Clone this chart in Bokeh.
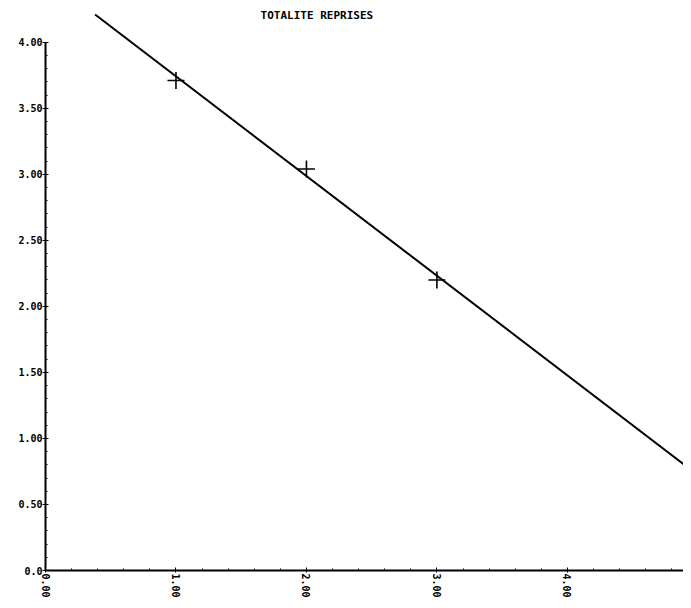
from bokeh.plotting import figure
from bokeh.models import Range1d, FixedTicker, Label
from bokeh.embed import file_html
from bokeh.resources import INLINE

# data
title_text = "TOTALITE REPRISES"
point_x = [1.0, 2.0, 3.0]
point_y = [3.71, 3.04, 2.20]
line_x = [0.38, 4.95]
line_y = [4.21, 0.76]
x_ticks = [0, 1, 2, 3, 4]
x_tick_labels = ["0.00", "1.00", "2.00", "3.00", "4.00"]
y_ticks = [0, 0.5, 1.0, 1.5, 2.0, 2.5, 3.0, 3.5, 4.0]
y_tick_labels = ["0.0", "0.50", "1.00", "1.50", "2.00", "2.50", "3.00", "3.50", "4.00"]

FONT = "DejaVu Sans Mono"

p = figure(width=683, height=600, output_backend="svg", toolbar_location=None,
           x_range=Range1d(0, 4.89), y_range=Range1d(0, 4.316),
           min_border_left=45, min_border_right=0, min_border_top=0, min_border_bottom=26)
p.outline_line_color = None
p.xgrid.visible = False
p.ygrid.visible = False
p.background_fill_color = "white"

p.line(line_x, line_y, line_color="black", line_width=2)
p.scatter(point_x, point_y, marker="cross", size=17, line_color="black", line_width=1.6)

for ax in (p.xaxis[0], p.yaxis[0]):
    ax.axis_line_color = "black"
    ax.axis_line_width = 2
    ax.major_tick_in = 3
    ax.major_tick_out = 3
    ax.major_tick_line_color = "black"
    ax.minor_tick_in = 2
    ax.minor_tick_out = 0
    ax.minor_tick_line_color = "black"
    ax.major_label_text_font = FONT
    ax.major_label_text_font_style = "bold"
    ax.major_label_text_font_size = "10px"
    ax.major_label_text_color = "black"

p.xaxis.ticker = FixedTicker(ticks=x_ticks, minor_ticks=[i * 0.2 for i in range(25)])
p.xaxis.major_label_overrides = dict(zip(x_ticks, x_tick_labels))
p.xaxis.major_label_orientation = "vertical"
p.xaxis.major_tick_out = 2
p.xaxis.major_label_standoff = 1

p.yaxis.ticker = FixedTicker(ticks=y_ticks, minor_ticks=[i * 0.1 for i in range(41)])
p.yaxis.major_label_overrides = dict(zip(y_ticks, y_tick_labels))
p.yaxis.major_label_standoff = 0
p.yaxis.bounds = (0, 4)

p.add_layout(Label(x=2.08, y=4.20, text=title_text, text_font=FONT, text_font_style="bold",
                   text_font_size="11px", text_align="center", text_baseline="middle",
                   text_color="black"))

open("out.html", "w").write(file_html(p, INLINE))
